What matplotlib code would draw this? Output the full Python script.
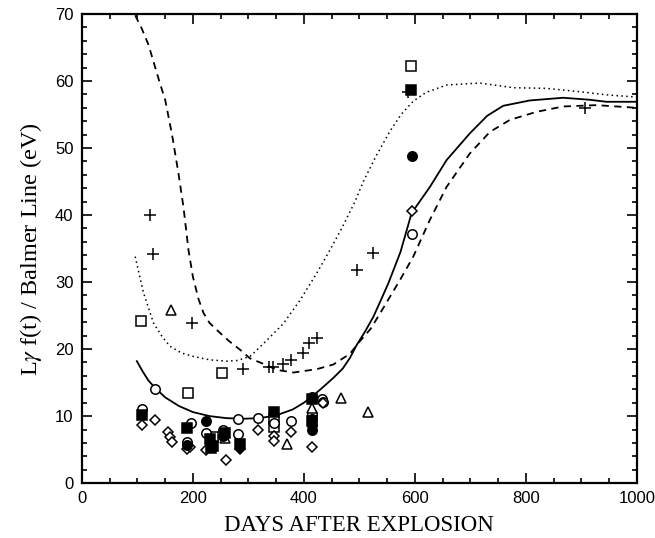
import matplotlib.pyplot as plt
from matplotlib.ticker import MultipleLocator

plt.rcParams['mathtext.fontset'] = 'stix'

# model curves
solid_x = [99, 110, 120, 132, 150, 175, 200, 230, 260, 290, 320, 350, 380, 400, 414,
           430, 453, 470, 483, 495, 510, 525, 537, 552, 574, 594, 627, 657, 699, 730,
           759, 807, 867, 915, 945, 1000]
solid_y = [18.2, 16.6, 15.3, 14.2, 12.8, 11.5, 10.6, 10.0, 9.7, 9.6, 9.7, 10.1, 11.0, 12.0, 12.9,
           14.0, 15.7, 17.1, 18.7, 20.6, 22.6, 24.8, 27.0, 29.8, 34.5, 40.3, 44.2, 48.2, 52.2, 54.8,
           56.3, 57.1, 57.5, 57.2, 56.9, 56.9]

dashed_x = [96, 108, 120, 139, 150, 162, 174, 183, 192, 200, 210, 219, 230, 249, 265, 285,
            303, 333, 351, 381, 423, 453, 483, 498, 520, 537, 555, 573, 597, 627, 657,
            699, 735, 771, 819, 867, 927, 1000]
dashed_y = [69.8, 67.8, 65.4, 60.1, 57.2, 52.2, 46.2, 41.2, 34.8, 30.8, 27.5, 25.4, 23.9, 22.4, 21.2, 19.9,
            18.6, 17.6, 16.9, 16.5, 17.0, 17.7, 19.3, 20.9, 23.0, 25.3, 27.8, 30.3, 33.8, 39.3, 44.2,
            49.2, 52.4, 54.2, 55.4, 56.2, 56.4, 56.0]

dotted_x = [96, 111, 129, 145, 159, 180, 201, 230, 261, 280, 303, 333, 363, 393, 423,
            447, 468, 492, 507, 530, 555, 575, 597, 620, 657, 717, 777, 837, 897, 950, 1000]
dotted_y = [33.8, 28.4, 23.9, 21.8, 20.4, 19.4, 18.9, 18.4, 18.2, 18.3, 18.9, 21.3, 23.8, 27.3, 31.3,
            34.8, 38.0, 42.0, 45.0, 48.8, 52.5, 55.0, 57.0, 58.3, 59.4, 59.7, 59.0, 58.9, 58.4, 57.9, 57.6]

# observations
plus_x = [123, 128, 198, 291, 337, 345, 362, 376, 398, 410, 423, 495, 525, 588, 906]
plus_y = [40.0, 34.2, 23.9, 17.1, 17.3, 17.3, 17.7, 18.3, 19.4, 20.9, 21.6, 31.8, 34.3, 58.4, 55.9]

open_sq_x = [107, 191, 253, 236, 347, 347, 593]
open_sq_y = [24.2, 13.5, 16.5, 6.9, 9.5, 8.3, 62.2]

filled_sq_x = [108, 189, 230, 236, 233, 257, 284, 347, 415, 415, 593]
filled_sq_y = [10.1, 8.2, 6.6, 5.6, 5.2, 7.5, 5.8, 10.6, 12.6, 9.3, 58.6]

open_circ_x = [109, 132, 196, 189, 223, 254, 282, 282, 318, 347, 377, 415, 432, 434, 594]
open_circ_y = [11.1, 14.1, 8.9, 6.2, 7.5, 7.9, 9.5, 7.4, 9.65, 9.0, 9.25, 10.3, 12.6, 12.1, 37.2]

filled_circ_x = [223, 189, 255, 414, 414, 414, 414, 594]
filled_circ_y = [9.25, 5.7, 7.0, 12.9, 9.6, 8.6, 8.0, 48.8]

open_dia_x = [108, 132, 156, 158, 162, 189, 195, 223, 259, 318, 347, 347, 377, 414, 434, 594]
open_dia_y = [8.7, 9.4, 7.7, 6.9, 6.2, 5.1, 5.4, 4.9, 3.4, 7.9, 7.0, 6.3, 7.6, 5.4, 11.9, 40.6]

filled_dia_x = [284]
filled_dia_y = [5.1]

tri_x = [161, 257, 370, 414, 466, 516]
tri_y = [25.8, 6.8, 5.9, 11.2, 12.7, 10.6]

fig = plt.figure(figsize=(6.55, 5.38), dpi=100)
ax = fig.add_axes([0.125, 0.102, 0.8475, 0.872])

ax.plot(solid_x, solid_y, color='black', lw=1.3, zorder=2)
ax.plot(dashed_x, dashed_y, color='black', lw=1.3, dashes=(4, 3), zorder=2)
ax.plot(dotted_x, dotted_y, color='black', lw=1.1, dashes=(1, 2.2), zorder=2)

ms = 6.8
openkw = dict(ls='none', mfc='white', mec='black', mew=1.1, ms=ms, zorder=3)
filledkw = dict(ls='none', mfc='black', mec='black', mew=1.1, ms=ms, zorder=4)

ax.plot(plus_x, plus_y, ls='none', marker='+', color='black', ms=8, mew=1.1, zorder=3.5)
ax.plot(open_sq_x, open_sq_y, marker='s', **openkw)
ax.plot(open_circ_x, open_circ_y, marker='o', **openkw)
ax.plot(open_dia_x, open_dia_y, marker='D', **{**openkw, 'ms': 5})
ax.plot(tri_x, tri_y, marker='^', **openkw)
ax.plot(filled_sq_x, filled_sq_y, marker='s', **filledkw)
ax.plot(filled_circ_x, filled_circ_y, marker='o', **filledkw)
ax.plot(filled_dia_x, filled_dia_y, marker='D', **{**filledkw, 'ms': 5})

ax.set_xlim(0, 1000)
ax.set_ylim(0, 70)
ax.xaxis.set_major_locator(MultipleLocator(200))
ax.xaxis.set_minor_locator(MultipleLocator(50))
ax.yaxis.set_major_locator(MultipleLocator(10))
ax.yaxis.set_minor_locator(MultipleLocator(2))
ax.tick_params(which='both', direction='in', top=True, right=True, width=1.2)
ax.tick_params(which='major', length=7, labelsize=12, pad=6)
ax.tick_params(which='minor', length=3.5)
for lab in ax.get_xticklabels() + ax.get_yticklabels():
    lab.set_family('Liberation Sans')
for s in ax.spines.values():
    s.set_linewidth(1.6)

ax.set_xlabel('DAYS AFTER EXPLOSION', family='Liberation Serif', fontsize=16.5, labelpad=6)
ax.set_ylabel(r'L$\gamma$ f(t) / Balmer Line (eV)', family='Liberation Serif', fontsize=17.5, labelpad=8)

fig.savefig('out.png', dpi=100)
